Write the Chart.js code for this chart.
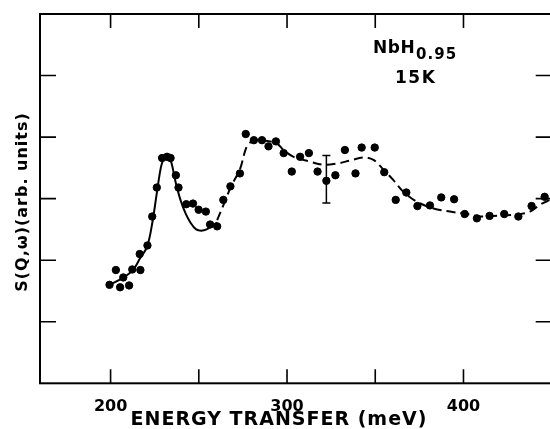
<!DOCTYPE html>
<html>
<head>
<meta charset="utf-8">
<script src="https://cdn.jsdelivr.net/npm/chart.js@4/dist/chart.umd.min.js"></script>
<style>
  html, body { margin: 0; padding: 0; background: #fff; overflow: hidden; }
  #wrap { position: absolute; left: 0; top: 0; width: 560px; height: 429px; }
</style>
</head>
<body>
<div id="wrap"><canvas id="myChart" width="560" height="429"></canvas></div>
<script>
// measured points, energy (meV) and S(Q,w) in arb. units
var energy = [199.4, 203, 205.4, 207.2, 210.5, 212.3, 216.9, 216.5, 220.9, 223.6,
              226.2, 229.2, 232, 234, 237, 238.5, 242.9, 246.7, 249.9, 254,
              256.4, 260.4, 263.9, 267.9, 273.3, 276.6, 281.2, 285.8, 289.5, 293.7,
              298.1, 302.7, 307.4, 312.4, 317.3, 322.3, 327.4, 332.8, 338.8, 342.3,
              349.7, 355.1, 361.6, 367.6, 373.9, 381.0, 387.4, 394.7, 400.7, 407.6,
              414.8, 423.1, 431.1, 438.6, 446.0];
var intensity = [1.60, 1.84, 1.56, 1.72, 1.59, 1.85, 1.84, 2.10, 2.24, 2.71,
                 3.18, 3.66, 3.68, 3.66, 3.38, 3.18, 2.91, 2.92, 2.82, 2.79,
                 2.58, 2.55, 2.98, 3.20, 3.41, 4.05, 3.95, 3.95, 3.85, 3.93,
                 3.74, 3.44, 3.68, 3.74, 3.44, 3.29, 3.38, 3.79, 3.41, 3.83,
                 3.83, 3.43, 2.98, 3.10, 2.88, 2.89, 3.02, 2.99, 2.75, 2.68,
                 2.72, 2.75, 2.71, 2.88, 3.03];

// solid fit curve (first peak)
var solidX = [199.4, 206.7, 212.7, 216.7, 220.7, 223.6, 226.2, 228.6, 230.6, 232.4,
              234.6, 236.6, 239.6, 242.5, 245.5, 248.5, 251.4, 254.4, 257.4, 260.4];
var solidY = [1.60, 1.71, 1.84, 2.03, 2.22, 2.60, 3.09, 3.52, 3.69, 3.72,
              3.57, 3.30, 2.98, 2.76, 2.60, 2.50, 2.48, 2.50, 2.56, 2.61];

// dashed curve
var dashX = [260.4, 264.3, 268.3, 273.2, 277.2, 280.2, 284.2, 288.1, 294.1, 298.0,
             303.7, 313.2, 320.7, 328.3, 335.8, 343.4, 349.0, 354.7, 360.3, 366.0,
             373.6, 383.0, 392.4, 401.9, 409.4, 416.9, 424.5, 432.0, 437.7, 443.3, 449.0];
var dashY = [2.65, 2.92, 3.20, 3.47, 3.85, 3.93, 3.95, 3.94, 3.90, 3.79,
             3.68, 3.60, 3.55, 3.57, 3.62, 3.67, 3.63, 3.47, 3.30, 3.11,
             2.95, 2.84, 2.79, 2.75, 2.71, 2.72, 2.73, 2.75, 2.79, 2.90, 2.98];

// single error bar
var errX = [322.3];
var errLow = [2.93];
var errHigh = [3.70];

var xTickLabels = [200, 300, 400];
var xTickMarks = [200, 250, 300, 350, 400];
var yTickMarks = [1, 2, 3, 4, 5];

var xTitle = "ENERGY TRANSFER (meV)";
var yTitle = "S(Q,\u03c9)(arb. units)";
var noteMain = "NbH";
var noteSub = "0.95";
var noteTemp = "15K";

function pairs(xs, ys) {
    var out = [];
    for (var i = 0; i < xs.length; i++) out.push({x: xs[i], y: ys[i]});
    return out;
}

var FONT = '"DejaVu Sans", sans-serif';

// frame, inward ticks, error bar and texts
var decor = {
    id: 'decor',
    afterDatasetsDraw: function(chart) {
        var ctx = chart.ctx;
        var a = chart.chartArea;
        var xs = chart.scales.x, ys = chart.scales.y;
        ctx.save();
        ctx.strokeStyle = '#000';
        ctx.fillStyle = '#000';

        ctx.lineWidth = 2;
        ctx.strokeRect(a.left, a.top, a.right - a.left, a.bottom - a.top);

        ctx.lineWidth = 1.6;
        ctx.beginPath();
        xTickMarks.forEach(function(v) {
            var px = xs.getPixelForValue(v);
            ctx.moveTo(px, a.top); ctx.lineTo(px, a.top + 14);
            ctx.moveTo(px, a.bottom); ctx.lineTo(px, a.bottom - 14);
        });
        yTickMarks.forEach(function(v) {
            var py = ys.getPixelForValue(v);
            ctx.moveTo(a.left, py); ctx.lineTo(a.left + 16, py);
            ctx.moveTo(a.right, py); ctx.lineTo(a.right - 16, py);
        });
        ctx.stroke();

        ctx.lineWidth = 1.5;
        ctx.beginPath();
        for (var i = 0; i < errX.length; i++) {
            var ex = xs.getPixelForValue(errX[i]);
            var lo = ys.getPixelForValue(errLow[i]);
            var hi = ys.getPixelForValue(errHigh[i]);
            ctx.moveTo(ex, lo); ctx.lineTo(ex, hi);
            ctx.moveTo(ex - 4, lo); ctx.lineTo(ex + 4, lo);
            ctx.moveTo(ex - 4, hi); ctx.lineTo(ex + 4, hi);
        }
        ctx.stroke();

        // x title
        ctx.font = 'bold 19px ' + FONT;
        ctx.letterSpacing = '1px';
        ctx.textAlign = 'center';
        ctx.textBaseline = 'alphabetic';
        ctx.fillText(xTitle, 279, 425);

        // y title
        ctx.save();
        ctx.translate(27, 202);
        ctx.rotate(-Math.PI / 2);
        ctx.font = 'bold 16px ' + FONT;
        ctx.letterSpacing = '1px';
        ctx.fillText(yTitle, 0, 0);
        ctx.restore();

        // annotation
        ctx.textAlign = 'left';
        ctx.letterSpacing = '0.5px';
        ctx.font = 'bold 17px ' + FONT;
        ctx.fillText(noteMain, 373, 53);
        var w = ctx.measureText(noteMain).width;
        ctx.font = 'bold 15px ' + FONT;
        ctx.letterSpacing = '1px';
        ctx.fillText(noteSub, 373 + w + 1, 59);
        ctx.font = 'bold 17px ' + FONT;
        ctx.letterSpacing = '1.5px';
        ctx.fillText(noteTemp, 395, 83);
        ctx.restore();
    }
};

var ctx = document.getElementById('myChart');
var chart = new Chart(ctx, {
    type: 'scatter',
    data: {
        datasets: [
            {
                label: 'data',
                data: pairs(energy, intensity),
                backgroundColor: '#000',
                borderColor: '#000',
                pointRadius: 3.7,
                pointHoverRadius: 3.7
            },
            {
                label: 'fit',
                data: pairs(solidX, solidY),
                showLine: true,
                borderColor: '#000',
                borderWidth: 2,
                pointRadius: 0,
                tension: 0.35
            },
            {
                label: 'guide',
                data: pairs(dashX, dashY),
                showLine: true,
                borderColor: '#000',
                borderWidth: 2,
                borderDash: [9, 5],
                pointRadius: 0,
                tension: 0.35
            }
        ]
    },
    options: {
        responsive: false,
        animation: false,
        events: [],
        layout: { padding: { top: 14, right: 8.3, left: 0, bottom: 0 } },
        plugins: { legend: { display: false }, tooltip: { enabled: false } },
        scales: {
            x: {
                type: 'linear',
                min: 160,
                max: 450,
                grid: { display: false },
                border: { display: false },
                afterBuildTicks: function(scale) {
                    scale.ticks = xTickLabels.map(function(v) { return {value: v}; });
                },
                afterFit: function(scale) { scale.height = 45.7; },
                ticks: {
                    color: '#000',
                    padding: 6,
                    maxRotation: 0,
                    font: { family: FONT, size: 16, weight: 'bold' }
                }
            },
            y: {
                type: 'linear',
                min: 0,
                max: 6,
                grid: { display: false },
                border: { display: false },
                ticks: { display: false },
                afterFit: function(scale) { scale.width = 40; }
            }
        }
    },
    plugins: [decor]
});
</script>
</body>
</html>
